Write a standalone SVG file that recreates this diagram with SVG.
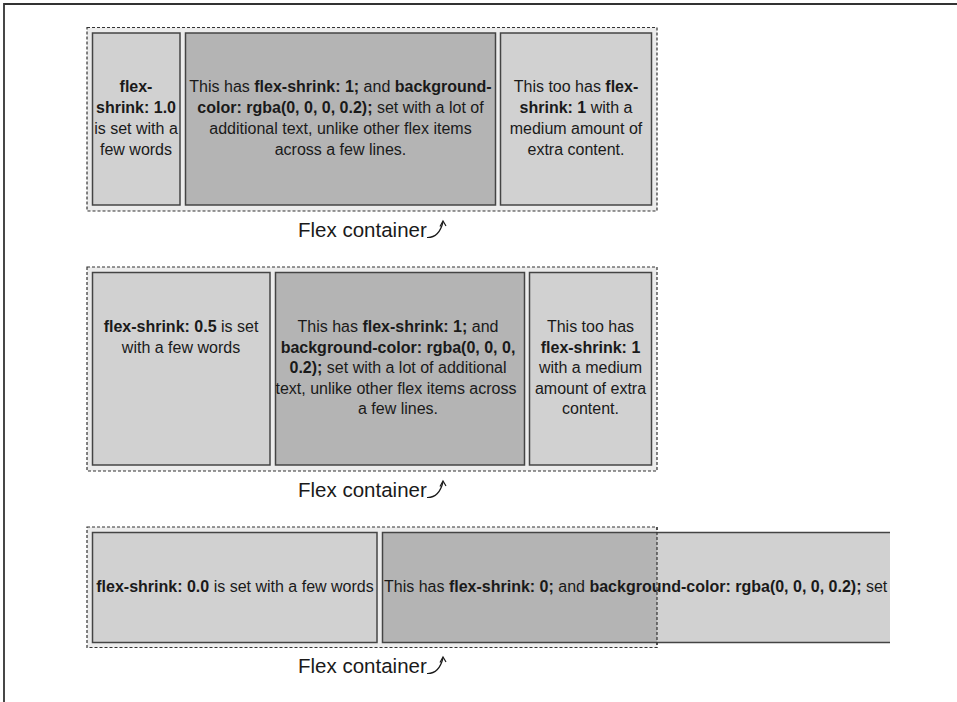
<svg xmlns="http://www.w3.org/2000/svg" width="957" height="702" viewBox="0 0 957 702">
<style>
text{font-family:"Liberation Sans",Arial,sans-serif;font-size:16px;fill:#1a1a1a}
.b{font-weight:bold}
.c{text-anchor:middle}
.lbl{font-size:20.5px}
.cont{fill:#ececec;stroke:#333;stroke-width:1.2;stroke-dasharray:3,2}
.dash{fill:none;stroke:#333;stroke-width:1.2;stroke-dasharray:3,2}
.it{fill:#d1d1d1;stroke:#444;stroke-width:1.5}
.dk{fill:#b4b4b4;stroke:#444;stroke-width:1.5}
.arr{fill:none;stroke:#1a1a1a;stroke-width:1.2}
</style>
<defs>
<clipPath id="clip3"><rect x="382" y="530" width="508" height="114"/></clipPath>
</defs>
<rect width="957" height="702" fill="#fff"/>
<path d="M4,702 V4 H957" fill="none" stroke="#333" stroke-width="1.8"/>

<g id="row1">
<rect class="cont" x="87" y="27.5" width="570" height="183.5"/>
<g id="r1i1">
<rect class="it" x="92.5" y="33" width="87.5" height="172"/>
<text class="c" x="136" y="92"><tspan class="b">flex-</tspan></text>
<text class="c" x="136" y="113"><tspan class="b">shrink: 1.0</tspan></text>
<text class="c" x="136" y="134">is set with a</text>
<text class="c" x="136" y="155">few words</text>
</g>
<g id="r1i2">
<rect class="dk" x="185.5" y="33" width="310" height="172"/>
<text class="c" x="340.5" y="92">This has <tspan class="b">flex-shrink: 1;</tspan> and <tspan class="b">background-</tspan></text>
<text class="c" x="340.5" y="113"><tspan class="b">color: rgba(0, 0, 0, 0.2);</tspan> set with a lot of</text>
<text class="c" x="340.5" y="134">additional text, unlike other flex items</text>
<text class="c" x="340.5" y="155">across a few lines.</text>
</g>
<g id="r1i3">
<rect class="it" x="500.5" y="33" width="151" height="172"/>
<text class="c" x="576" y="92">This too has <tspan class="b">flex-</tspan></text>
<text class="c" x="576" y="113"><tspan class="b">shrink: 1</tspan> with a</text>
<text class="c" x="576" y="134">medium amount of</text>
<text class="c" x="576" y="155">extra content.</text>
</g>
<g id="r1lbl">
<text class="lbl" x="298" y="237">Flex container</text>
</g>
</g>

<g id="row2">
<rect class="cont" x="87" y="267" width="570" height="204"/>
<g id="r2i1">
<rect class="it" x="92.5" y="272.5" width="177.5" height="192.5"/>
<text class="c" x="181" y="332"><tspan class="b">flex-shrink: 0.5</tspan> is set</text>
<text class="c" x="181" y="352.5">with a few words</text>
</g>
<g id="r2i2">
<rect class="dk" x="275.5" y="272.5" width="249" height="192.5"/>
<text class="c" x="398" y="332">This has <tspan class="b">flex-shrink: 1;</tspan> and</text>
<text class="c" x="398" y="352.5"><tspan class="b">background-color: rgba(0, 0, 0,</tspan></text>
<text class="c" x="398" y="373"><tspan class="b">0.2);</tspan> set with a lot of additional</text>
<text class="c" x="396" y="393.5">text, unlike other flex items across</text>
<text class="c" x="398" y="414">a few lines.</text>
</g>
<g id="r2i3">
<rect class="it" x="529.5" y="272.5" width="122" height="192.5"/>
<text class="c" x="590.5" y="332">This too has</text>
<text class="c" x="590.5" y="352.5"><tspan class="b">flex-shrink: 1</tspan></text>
<text class="c" x="590.5" y="373">with a medium</text>
<text class="c" x="590.5" y="393.5">amount of extra</text>
<text class="c" x="590.5" y="414">content.</text>
</g>
<g id="r2lbl">
<text class="lbl" x="298" y="497">Flex container</text>
</g>
</g>

<g id="row3">
<rect class="cont" x="87" y="527" width="570" height="120.5"/>
<g id="r3i1">
<rect class="it" x="92.5" y="532.5" width="284.5" height="110"/>
<text class="c" x="235" y="592"><tspan class="b">flex-shrink: 0.0</tspan> is set with a few words</text>
</g>
<g id="r3i2">
<rect x="382.5" y="532.5" width="507.5" height="110" fill="#d1d1d1"/>
<rect x="382.5" y="532.5" width="274.5" height="110" fill="#b4b4b4"/>
<path d="M890,532.5 H382.5 V642.5 H890" fill="none" stroke="#444" stroke-width="1.5"/>
<text x="384" y="592" clip-path="url(#clip3)">This has <tspan class="b">flex-shrink: 0;</tspan> and <tspan class="b">background-color: rgba(0, 0, 0, 0.2);</tspan> set</text>
</g>
<path class="dash" d="M657,527 V647.5"/>
<g id="r3lbl">
<text class="lbl" x="298" y="673">Flex container</text>
</g>
</g>

<g id="connectors">
<path class="arr" d="M427,237.5 Q439,238 443,222"/>
<path class="arr" d="M440,226.5 L443,221 L446,226"/>
<path class="arr" d="M427,497.5 Q439,498 443,482"/>
<path class="arr" d="M440,486.5 L443,481 L446,486"/>
<path class="arr" d="M427,673.5 Q439,674 443,658"/>
<path class="arr" d="M440,662.5 L443,657 L446,662"/>
</g>
</svg>
